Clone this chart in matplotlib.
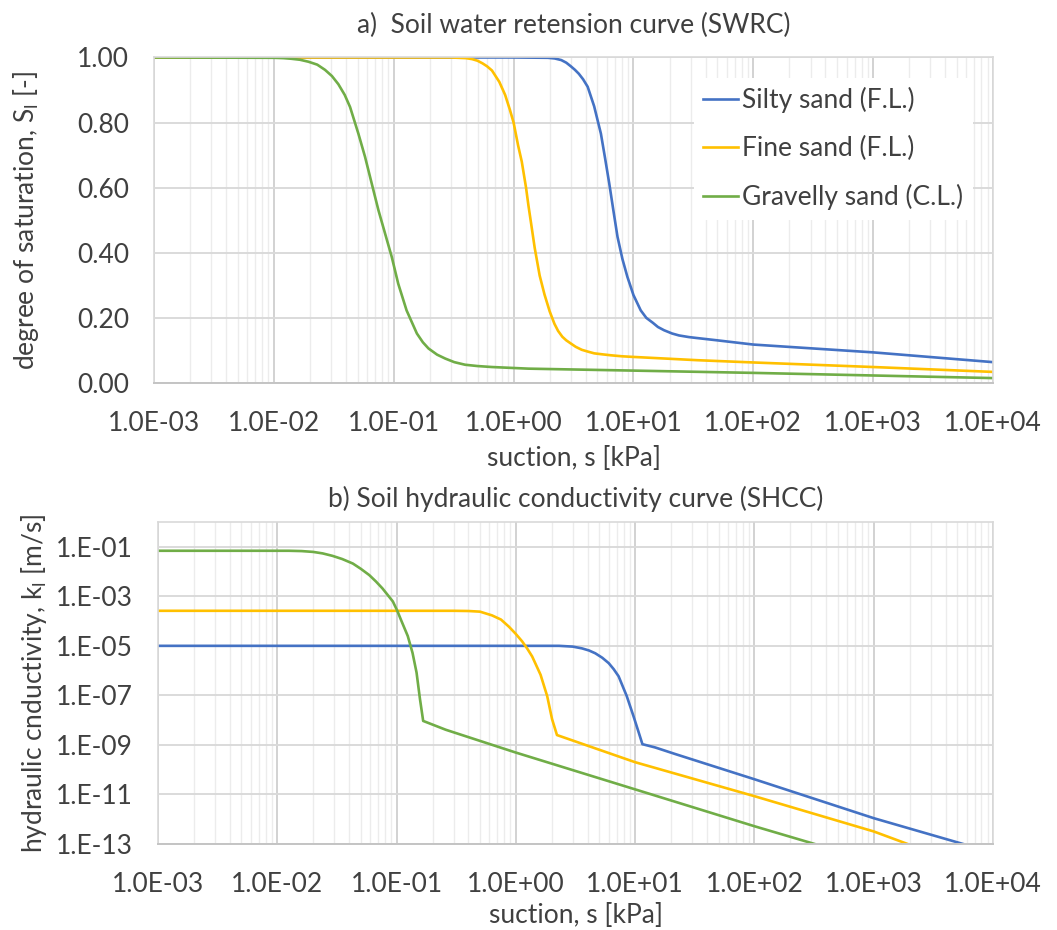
import numpy as np
import matplotlib
matplotlib.use("Agg")
import matplotlib.pyplot as plt
from matplotlib.ticker import FuncFormatter, FixedLocator, LogLocator, NullLocator

plt.rcParams['font.family'] = ['Lato', 'DejaVu Sans']
plt.rcParams['mathtext.default'] = 'regular'
plt.rcParams['font.size'] = 19

TEXT = '#404040'
BLUE = '#4472C4'
GOLD = '#FFC000'
GREEN = '#70AD47'
FS = 19

labels = ['Silty sand (F.L.)', 'Fine sand (F.L.)', 'Gravelly sand (C.L.)']

# a) retention curves: suction [kPa] vs degree of saturation [-]
swrc_s_silty = [0.001, 1.0, 1.93, 2.2, 2.5, 2.75, 3.0, 3.25, 3.5, 3.8, 4.15,
                4.7, 5.35, 5.8, 6.28, 6.8, 7.36, 8.1, 8.9, 10.0, 11.5, 12.8,
                14.5, 16.0, 18.0, 21.0, 24.0, 29.0, 34.0, 50.0, 100, 1000, 10000]
swrc_S_silty = [1.0, 1.0, 0.999, 0.997, 0.992, 0.984, 0.973, 0.962, 0.95,
                0.933, 0.91, 0.85, 0.766, 0.69, 0.613, 0.53, 0.449, 0.38, 0.326,
                0.27, 0.223, 0.2, 0.185, 0.172, 0.162, 0.152, 0.146, 0.141,
                0.138, 0.131, 0.118, 0.094, 0.064]

swrc_s_fine = [0.001, 0.2, 0.3, 0.4, 0.45, 0.5, 0.55, 0.6, 0.66, 0.76, 0.85,
               0.93, 1.0, 1.09, 1.17, 1.27, 1.33, 1.40, 1.50, 1.65, 1.81, 2.0,
               2.19, 2.35, 2.55, 2.75, 3.01, 3.3, 3.7, 4.2, 4.71, 5.5, 6.5, 8.0,
               10, 34, 100, 1000, 10000]
swrc_S_fine = [1.0, 1.0, 1.0, 0.998, 0.995, 0.99, 0.982, 0.973, 0.96, 0.925,
               0.885, 0.84, 0.80, 0.73, 0.68, 0.60, 0.545, 0.49, 0.415, 0.33,
               0.272, 0.22, 0.182, 0.16, 0.142, 0.131, 0.121, 0.111, 0.102,
               0.096, 0.091, 0.088, 0.085, 0.082, 0.080, 0.070, 0.063, 0.049,
               0.034]

swrc_s_grav = [0.001, 0.01, 0.012, 0.014, 0.0165, 0.0194, 0.023, 0.0267,
               0.0305, 0.0345, 0.039, 0.0432, 0.0507, 0.0576, 0.0655, 0.0745,
               0.0847, 0.0963, 0.109, 0.128, 0.156, 0.175, 0.195, 0.23, 0.269,
               0.32, 0.394, 0.5, 0.659, 1.33, 10, 100, 1000, 10000]
swrc_S_grav = [1.0, 0.999, 0.998, 0.996, 0.993, 0.987, 0.978, 0.962, 0.943,
               0.918, 0.885, 0.848, 0.766, 0.695, 0.613, 0.531, 0.459, 0.387,
               0.305, 0.223, 0.152, 0.125, 0.106, 0.087, 0.075, 0.064, 0.056,
               0.052, 0.049, 0.044, 0.038, 0.031, 0.023, 0.015]

# b) conductivity curves: suction [kPa] vs k [m/s]
shcc_s_silty = [0.001, 2.3, 3.0, 3.58, 4.1, 4.63, 5.3, 6.0, 6.6, 7.26, 8.5,
                9.7, 10.7, 11.5, 14.7, 21.6, 100, 1000, 5600]
shcc_k_silty = [1e-5, 1e-5, 9.3e-6, 7.9e-6, 6.5e-6, 5.0e-6, 3.3e-6, 2.0e-6,
                1.15e-6, 5.9e-7, 9.3e-8, 1.4e-8, 3.2e-9, 1.07e-9, 7.9e-10,
                4.3e-10, 4.1e-11, 1.1e-12, 1e-13]

shcc_s_fine = [0.001, 0.3, 0.4, 0.5, 0.63, 0.75, 0.875, 1.0, 1.13, 1.25, 1.37,
               1.61, 1.83, 2.01, 2.21, 10, 100, 1000, 1920]
shcc_k_fine = [2.6e-4, 2.6e-4, 2.55e-4, 2.4e-4, 1.7e-4, 1.15e-4, 5.9e-5, 3.0e-5,
               1.5e-5, 7.5e-6, 3.7e-6, 6.8e-7, 9.3e-8, 1.1e-8, 2.5e-9, 2.0e-10,
               8.5e-12, 3.2e-13, 1e-13]

shcc_s_grav = [0.001, 0.0125, 0.016, 0.020, 0.024, 0.029, 0.035, 0.043, 0.050,
               0.059, 0.067, 0.076, 0.084, 0.093, 0.101, 0.109, 0.124, 0.136,
               0.147, 0.157, 0.167, 0.258, 1.0, 10, 100, 319]
shcc_k_grav = [0.069, 0.069, 0.067, 0.062, 0.054, 0.043, 0.032, 0.021, 0.013,
               7.2e-3, 4.0e-3, 2.1e-3, 1.15e-3, 6.2e-4, 2.7e-4, 1.1e-4, 2.5e-5,
               5.2e-6, 8.3e-7, 7.1e-8, 9.3e-9, 4.1e-9, 4.9e-10, 1.6e-11,
               5.2e-13, 1e-13]

x_ticks = [1e-3, 1e-2, 1e-1, 1e0, 1e1, 1e2, 1e3, 1e4]
y_ticks_a = [0.0, 0.2, 0.4, 0.6, 0.8, 1.0]
y_ticks_b = [1e-13, 1e-11, 1e-9, 1e-7, 1e-5, 1e-3, 1e-1]


def style_axes(ax):
    ax.set_xscale('log')
    ax.set_xlim(1e-3, 1e4)
    ax.xaxis.set_major_locator(FixedLocator(x_ticks))
    ax.xaxis.set_minor_locator(LogLocator(base=10, subs=np.arange(2, 10), numticks=100))
    ax.xaxis.set_major_formatter(FuncFormatter(lambda v, p: '%.1E' % v))
    ax.grid(True, which='major', axis='x', color='#cfcfcf', lw=1.3)
    ax.grid(True, which='minor', axis='x', color='#ececec', lw=1.0)
    ax.grid(True, which='major', axis='y', color='#dadada', lw=1.4)
    ax.set_axisbelow(True)
    for side in ['top', 'left', 'right']:
        ax.spines[side].set_color('#d9d9d9')
        ax.spines[side].set_linewidth(1.2)
    ax.spines['bottom'].set_color('#c4c4c4')
    ax.spines['bottom'].set_linewidth(1.4)
    ax.tick_params(which='both', length=0, colors=TEXT, labelsize=FS)
    ax.tick_params(axis='x', pad=20)
    ax.tick_params(axis='y', pad=18)


fig = plt.figure(figsize=(10.57, 9.30), dpi=100)

# --- a) SWRC ---
ax1 = fig.add_axes([0.1457, 0.5882, 0.7938, 0.3500])
ax1.plot(swrc_s_silty, swrc_S_silty, color=BLUE, lw=1.9, label=labels[0])
ax1.plot(swrc_s_fine, swrc_S_fine, color=GOLD, lw=1.9, label=labels[1])
ax1.plot(swrc_s_grav, swrc_S_grav, color=GREEN, lw=1.9, label=labels[2])
style_axes(ax1)
ax1.set_ylim(0, 1.0)
ax1.yaxis.set_major_locator(FixedLocator(y_ticks_a))
ax1.yaxis.set_major_formatter(FuncFormatter(lambda v, p: '%.2f' % v))
ax1.set_title('a)  Soil water retension curve (SWRC)', color=TEXT, fontsize=FS, pad=17.5)
ax1.set_xlabel('suction, s [kPa]', color=TEXT, fontsize=FS)
ax1.set_ylabel('degree of saturation, S$_l$ [-]', color=TEXT, fontsize=FS)
ax1.xaxis.set_label_coords(0.5, -0.194)
ax1.yaxis.set_label_coords(-0.135, 0.5)
leg = ax1.legend(loc='upper left', bbox_to_anchor=(0.6436, 0.937), borderaxespad=0,
                 frameon=True, facecolor='white', edgecolor='none', framealpha=1,
                 fancybox=False, handlelength=1.33, handletextpad=0.15,
                 labelspacing=0.87, borderpad=0.35, fontsize=FS)
for t in leg.get_texts():
    t.set_color(TEXT)

# --- b) SHCC ---
ax2 = fig.add_axes([0.1495, 0.0925, 0.7900, 0.3462])
ax2.plot(shcc_s_silty, shcc_k_silty, color=BLUE, lw=1.9)
ax2.plot(shcc_s_fine, shcc_k_fine, color=GOLD, lw=1.9)
ax2.plot(shcc_s_grav, shcc_k_grav, color=GREEN, lw=1.9)
style_axes(ax2)
ax2.set_yscale('log')
ax2.set_ylim(1e-13, 1e0)
ax2.yaxis.set_major_locator(FixedLocator(y_ticks_b))
ax2.yaxis.set_minor_locator(NullLocator())
ax2.yaxis.set_major_formatter(FuncFormatter(lambda v, p: '1.E%+03d' % round(np.log10(v))))
ax2.set_title('b) Soil hydraulic conductivity curve (SHCC)', color=TEXT, fontsize=FS, pad=10.5)
ax2.set_xlabel('suction, s [kPa]', color=TEXT, fontsize=FS)
ax2.set_ylabel('hydraulic cnductivity, k$_l$ [m/s]', color=TEXT, fontsize=FS)
ax2.xaxis.set_label_coords(0.5, -0.183)
ax2.yaxis.set_label_coords(-0.130, 0.5)

fig.savefig('out.png', dpi=100, facecolor='white')
